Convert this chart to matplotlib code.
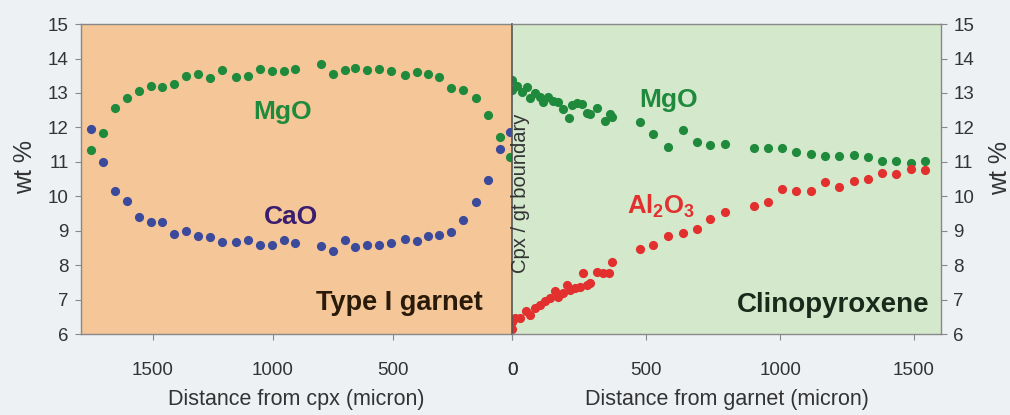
import numpy as np
import matplotlib
matplotlib.use('Agg')
import matplotlib.pyplot as plt

plt.rcParams['font.family'] = ['Liberation Sans', 'DejaVu Sans']
plt.rcParams['mathtext.fontset'] = 'custom'
plt.rcParams['mathtext.rm'] = 'Liberation Sans'
plt.rcParams['mathtext.bf'] = 'Liberation Sans:bold'

# garnet side (distance from cpx, micron)
gt_dist = [1760, 1710, 1660, 1610, 1560, 1510, 1460, 1410, 1360, 1310, 1260,
           1210, 1155, 1105, 1055, 1005, 955, 905, 800, 750, 700, 655, 605,
           555, 505, 450, 400, 350, 305, 255, 205, 150, 100, 50, 10]
gt_mgo = [11.33, 11.83, 12.57, 12.86, 13.05, 13.20, 13.18, 13.25, 13.48, 13.56,
          13.44, 13.66, 13.47, 13.49, 13.71, 13.63, 13.63, 13.70, 13.83, 13.55,
          13.68, 13.73, 13.66, 13.70, 13.65, 13.52, 13.60, 13.56, 13.45, 13.14,
          13.09, 12.85, 12.37, 11.72, 11.15]
gt_cao = [11.95, 10.99, 10.14, 9.85, 9.39, 9.25, 9.25, 8.91, 8.98, 8.84, 8.81,
          8.66, 8.66, 8.72, 8.59, 8.59, 8.72, 8.64, 8.56, 8.42, 8.72, 8.53,
          8.59, 8.60, 8.64, 8.77, 8.70, 8.84, 8.87, 8.97, 9.30, 9.83, 10.48,
          11.37, 11.88]

# cpx side (distance from garnet, micron)
cpx_mgo_dist = [0, 0, 16, 35, 54, 66, 85, 103, 116, 134, 153, 172, 190, 213,
                222, 240, 259, 278, 290, 315, 346, 365, 371, 476, 527, 583,
                636, 690, 740, 795, 903, 953, 1007, 1061, 1116, 1168, 1221,
                1275, 1327, 1381, 1433, 1488, 1540]
cpx_mgo = [13.38, 13.10, 13.20, 13.04, 13.16, 12.84, 12.99, 12.89, 12.75,
           12.87, 12.77, 12.75, 12.52, 12.26, 12.65, 12.72, 12.68, 12.41,
           12.39, 12.55, 12.19, 12.39, 12.29, 12.17, 11.80, 11.43, 11.93,
           11.59, 11.50, 11.52, 11.40, 11.40, 11.41, 11.30, 11.23, 11.17,
           11.17, 11.21, 11.14, 11.02, 11.02, 10.97, 11.02]
cpx_al_dist = [0, 0, 10, 29, 50, 66, 85, 103, 122, 141, 158, 171, 190, 203,
               215, 234, 265, 253, 278, 290, 315, 340, 361, 371, 478, 527,
               583, 636, 690, 740, 795, 903, 953, 1007, 1061, 1116, 1168,
               1221, 1275, 1327, 1381, 1433, 1488, 1540]
cpx_al = [6.14, 6.36, 6.46, 6.47, 6.68, 6.55, 6.75, 6.84, 6.97, 7.04, 7.26,
          7.08, 7.18, 7.42, 7.28, 7.33, 7.76, 7.37, 7.42, 7.49, 7.79, 7.78,
          7.76, 8.10, 8.46, 8.60, 8.84, 8.94, 9.04, 9.34, 9.55, 9.71, 9.84,
          10.20, 10.16, 10.14, 10.41, 10.28, 10.43, 10.50, 10.68, 10.65,
          10.80, 10.77]

yticks = list(range(6, 16))

green = '#1f8a3c'
blue = '#3c4a9c'
red = '#e2302e'
tickcol = '#888888'
txtcol = '#333333'

fig = plt.figure(figsize=(10.1, 4.15), dpi=100, facecolor='#edf1f4')
ax1 = fig.add_axes([0.0802, 0.195, 0.4271, 0.747])
ax2 = fig.add_axes([0.5073, 0.195, 0.4241, 0.747])

ax1.set_facecolor('#f5c697')
ax2.set_facecolor('#d4e8cc')

ms = 6.6
ax1.plot(gt_dist, gt_mgo, 'o', color=green, ms=ms, mec='none')
ax1.plot(gt_dist, gt_cao, 'o', color=blue, ms=ms, mec='none')
ax2.plot(cpx_mgo_dist, cpx_mgo, 'o', color=green, ms=ms, mec='none')
ax2.plot(cpx_al_dist, cpx_al, 'o', color=red, ms=ms, mec='none')

ax1.set_xlim(1800, 0)
ax2.set_xlim(0, 1600)
for ax in (ax1, ax2):
    ax.set_ylim(6, 15)
    ax.set_yticks(yticks)
    ax.set_xticks([0, 500, 1000, 1500])
    ax.tick_params(direction='out', length=4, color=tickcol, labelsize=13.5,
                   labelcolor=txtcol, pad=5)
    ax.tick_params(axis='x', pad=16)
    for s in ax.spines.values():
        s.set_color(tickcol)
        s.set_linewidth(1.0)

ax1.spines['right'].set_visible(False)
ax2.spines['left'].set_color('#555555')
ax2.spines['left'].set_linewidth(1.2)
ax2.tick_params(axis='y', left=False, labelleft=False, right=True,
                labelright=True)

ax1.set_xlabel('Distance from cpx (micron)', fontsize=15.5, color=txtcol,
               labelpad=7)
ax2.set_xlabel('Distance from garnet (micron)', fontsize=15.5,
               color=txtcol, labelpad=7)
fig.text(0.0248, 0.598, 'wt %', rotation=90, fontsize=18, color=txtcol,
         ha='center', va='center')
fig.text(0.990, 0.595, 'wt %', rotation=90, fontsize=18, color=txtcol,
         ha='center', va='center')

# annotations
ax1.text(960, 12.45, 'MgO', color=green, fontsize=19, fontweight='bold',
         ha='center', va='center')
ax1.text(925, 9.4, 'CaO', color='#3a1d6e', fontsize=19, fontweight='bold',
         ha='center', va='center')
ax1.text(470, 6.9, 'Type I garnet', color='#2a1a0a', fontsize=19.5,
         fontweight='bold', ha='center', va='center')
ax2.text(585, 12.8, 'MgO', color=green, fontsize=19, fontweight='bold',
         ha='center', va='center')
ax2.text(555, 9.72, r'$\mathbf{Al_2O_3}$', color=red, fontsize=18.5,
         ha='center', va='center')
ax2.text(1200, 6.85, 'Clinopyroxene', color='#1a2a1a', fontsize=20,
         fontweight='bold', ha='center', va='center')
ax2.text(29, 10.1, 'Cpx / gt boundary', color=txtcol, fontsize=14.5,
         rotation=90, ha='center', va='center')

fig.savefig('out.png', dpi=100, facecolor=fig.get_facecolor())
